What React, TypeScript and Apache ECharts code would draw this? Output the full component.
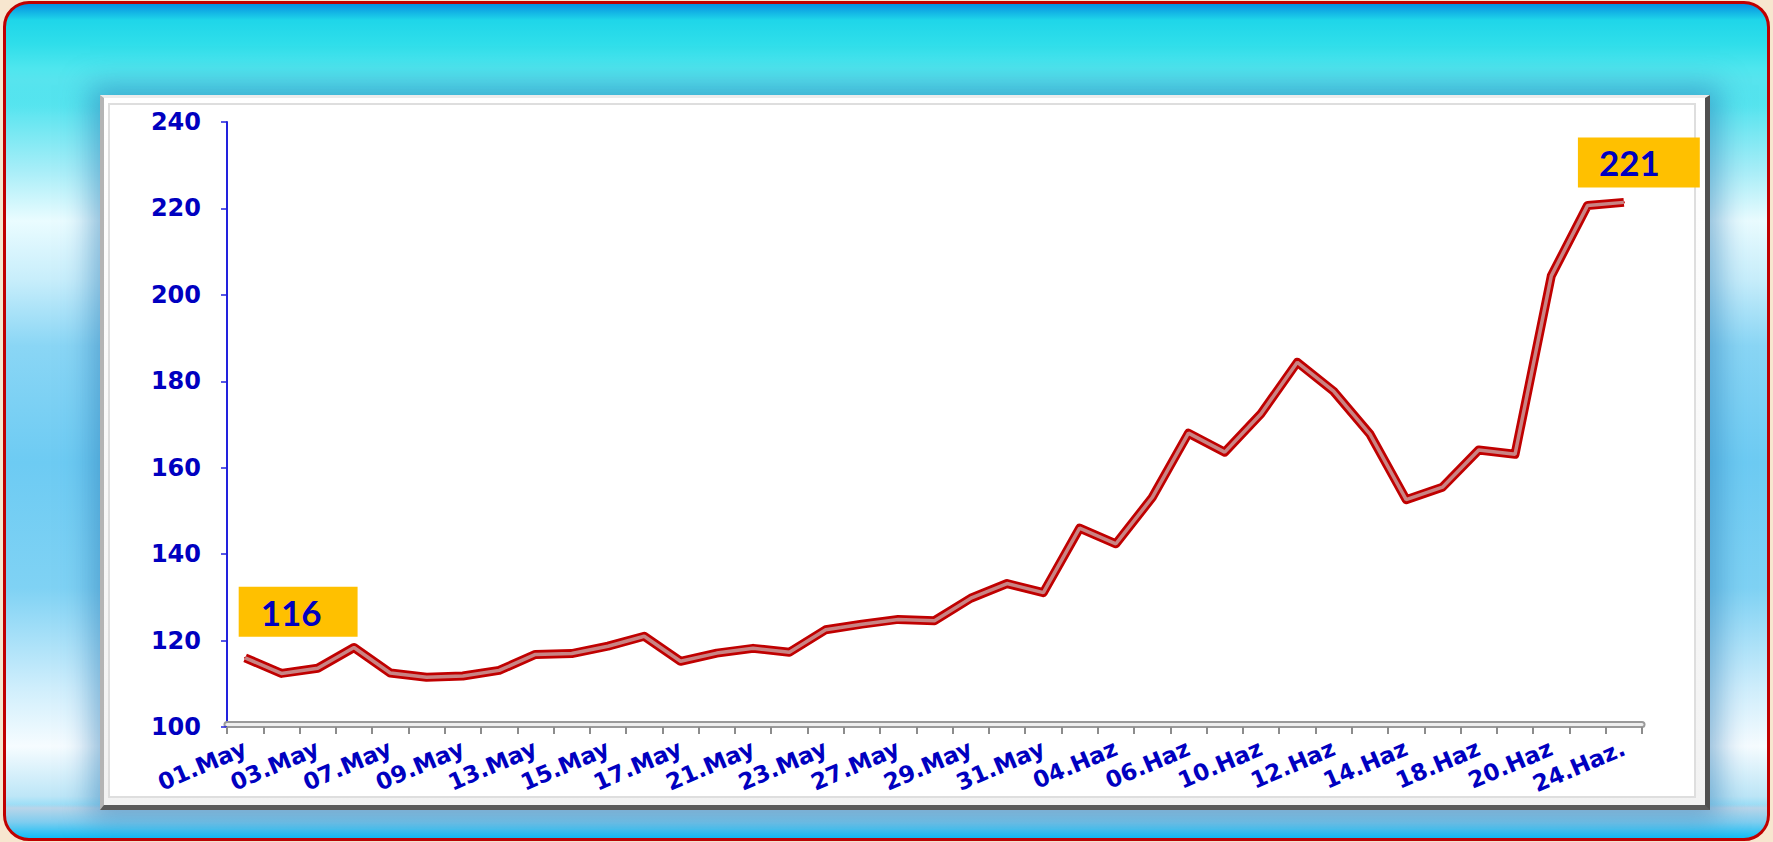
import React, { useEffect, useRef } from "react";
import * as echarts from "echarts";

const categories = [
  "01.May", "02.May", "03.May", "06.May", "07.May", "08.May", "09.May", "10.May",
  "13.May", "14.May", "15.May", "16.May", "17.May", "20.May", "21.May", "22.May",
  "23.May", "24.May", "27.May", "28.May", "29.May", "30.May", "31.May", "03.Haz",
  "04.Haz", "05.Haz", "06.Haz", "07.Haz", "10.Haz", "11.Haz", "12.Haz", "13.Haz",
  "14.Haz", "17.Haz", "18.Haz", "19.Haz", "20.Haz", "21.Haz", "24.Haz.",
];

const values = [
  116, 112.4, 113.6, 118.4, 112.5, 111.5, 111.8, 113.1,
  116.8, 117, 118.7, 121, 115.2, 117.1, 118.2, 117.3,
  122.5, 123.8, 124.9, 124.6, 129.8, 133.2, 131.1, 146,
  142.4, 153.1, 168, 163.6, 172.5, 184.4, 177.7, 167.8,
  152.6, 155.5, 164.1, 163.1, 204.4, 220.7, 221.4,
];

const yTicks = { min: 100, max: 240, interval: 20 };

const BLUE = "#0000c0";

export default function App() {
  const ref = useRef<HTMLDivElement>(null);

  useEffect(() => {
    if (!ref.current) return;
    const chart = echarts.init(ref.current, undefined, { renderer: "svg" });
    const last = values.length - 1;
    const labelBase = {
      show: true,
      position: "top",
      formatter: (p: any) => String(Math.round(p.value)),
      color: BLUE,
      fontFamily: "Lato, 'Open Sans', sans-serif",
      fontWeight: "bold",
      fontSize: 35,
      lineHeight: 32,
      backgroundColor: "#FFC000",
    };
    const mainData = values.map((v, i) => {
      if (i === 0) {
        return { value: v, label: { ...labelBase, distance: 20, offset: [53, 0], padding: [9, 36, 9, 22] } };
      }
      if (i === last) {
        return { value: v, label: { ...labelBase, distance: 14, offset: [15, 0], padding: [9, 40, 9, 21] } };
      }
      return v;
    });

    const axisFont = {
      color: BLUE,
      fontWeight: "bold",
      fontSize: 23,
      fontFamily: "'DejaVu Sans', Verdana, sans-serif",
    };

    chart.setOption({
      animation: false,
      grid: { left: 227, top: 122, right: 131, bottom: 115, containLabel: false, outerBoundsMode: "none" },
      xAxis: [
        {
          type: "category",
          data: categories,
          boundaryGap: true,
          axisLine: { show: false },
          axisTick: { show: true, interval: 0, length: 7, lineStyle: { color: "#8c8c8c", width: 2 } },
          axisLabel: { ...axisFont, interval: 1, rotate: 23, margin: 20 },
          splitLine: { show: false },
        },
        {
          type: "category",
          data: categories,
          position: "bottom",
          offset: -3,
          axisLine: { show: true, lineStyle: { color: "#9a9a9a", width: 7 } },
          axisTick: { show: false },
          axisLabel: { show: false },
          splitLine: { show: false },
        },
        {
          type: "category",
          data: categories,
          position: "bottom",
          offset: -3,
          axisLine: { show: true, lineStyle: { color: "#eeeeee", width: 3 } },
          axisTick: { show: false },
          axisLabel: { show: false },
          splitLine: { show: false },
        },
      ],
      yAxis: {
        type: "value",
        min: yTicks.min,
        max: yTicks.max,
        interval: yTicks.interval,
        axisLine: { show: true, lineStyle: { color: "#2222dd", width: 2 } },
        axisTick: { show: true, length: 6, lineStyle: { color: "#2222dd", width: 1.5 } },
        axisLabel: { ...axisFont, fontSize: 24, margin: 26 },
        splitLine: { show: false },
      },
      series: [
        {
          type: "line",
          data: mainData,
          symbol: "circle",
          symbolSize: 2,
          itemStyle: { color: "#c00000" },
          lineStyle: { color: "#c00000", width: 9, join: "round" },
          z: 2,
        },
        {
          type: "line",
          data: values,
          symbol: "none",
          silent: true,
          lineStyle: { color: "#c98484", width: 3.5 },
          z: 3,
        },
      ],
    });
    return () => chart.dispose();
  }, []);

  return (
    <div style={{ position: "fixed", left: 0, top: 0, width: 1773, height: 842, background: "#f7e6cf", overflow: "hidden" }}>
      <div
        style={{
          position: "absolute",
          left: 3,
          top: 1,
          width: 1767,
          height: 840,
          boxSizing: "border-box",
          border: "3px solid #c00000",
          borderRadius: 26,
          overflow: "hidden",
          background:
            "linear-gradient(to bottom, #0690e2 0px, #1fd6e9 16px, #2fdeea 40px, #4ee6ee 64px, #57e4ee 76px, rgba(87,228,238,0) 112px)," +
            "linear-gradient(to bottom, rgba(16,190,246,0) 0, rgba(16,190,246,0) calc(100% - 34px), #b9d5e9 calc(100% - 30px), #7fcdef calc(100% - 16px), #10bef6 100%)," +
            "linear-gradient(to bottom, #2fdfea 0%, #55e4ef 12%, #a8eef8 20%, #eafcff 26%, #c8eefb 33%, #8ad6f5 41%, #6dcbf3 55%, #7fd2f4 70%, #cfeefc 82%, #f6fcff 89%, #bde6f7 95%, #18c0f6 100%)",
        }}
      />
      <div
        style={{
          position: "absolute",
          left: 100,
          top: 95,
          width: 1610,
          height: 715,
          boxSizing: "border-box",
          borderStyle: "solid",
          borderWidth: "3px 5px 5px 4px",
          borderColor: "#ececec #505050 #5a5a5a #b4b4b4",
          background: "linear-gradient(to bottom, #ffffff, #f2f2f2)",
          boxShadow: "0 0 26px 10px rgba(40,120,180,0.5)",
        }}
      />
      <div
        style={{
          position: "absolute",
          left: 108,
          top: 103,
          width: 1588,
          height: 695,
          boxSizing: "border-box",
          border: "2px solid #dedede",
          background: "#ffffff",
        }}
      />
      <div ref={ref} style={{ position: "absolute", left: 0, top: 0, width: 1773, height: 842 }} />
    </div>
  );
}
